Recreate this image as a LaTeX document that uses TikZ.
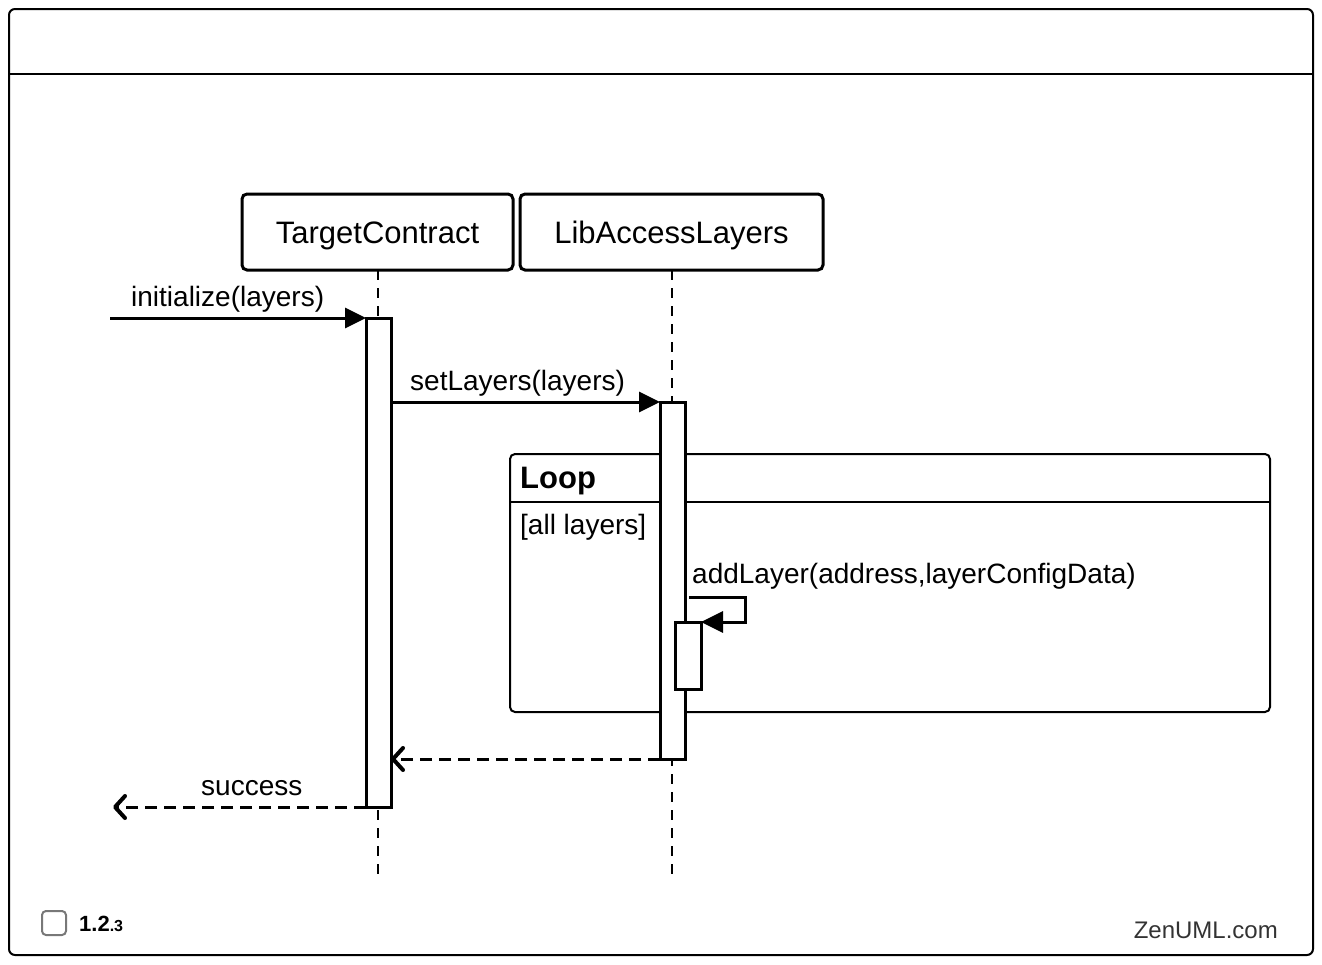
\documentclass[tikz,border=0pt]{standalone}
\usepackage{fontspec}
\setmainfont{Liberation Sans}
\usetikzlibrary{arrows.meta}
\definecolor{footgray}{RGB}{51,51,51}
\definecolor{boxgray}{RGB}{120,120,120}
\begin{document}
\begin{tikzpicture}[x=1pt,y=-1pt,
  part/.style={draw, line width=3pt, rounded corners=5pt, minimum height=76pt, inner sep=0pt, outer sep=0pt, text height=22pt, text depth=0pt, font=\fontsize{31}{37}\selectfont},
  act/.style={draw, fill=white, line width=3pt, inner sep=0pt, outer sep=0pt},
  life/.style={line width=1.5pt, dash pattern=on 10pt off 8pt},
  msg/.style={line width=3pt, -{Triangle[length=21pt,width=20pt]}},
  ret/.style={line width=3pt, dash pattern=on 12pt off 7pt, -{Straight Barb[length=10pt,width=22pt,line width=4pt,round]}},
  lbl/.style={font=\fontsize{28}{34}\selectfont, inner sep=0pt, anchor=base west},
]
\useasboundingbox (0,0) rectangle (1322,964);
% outer frame
\node[draw, line width=2pt, rounded corners=6pt, minimum width=1304pt, minimum height=946pt, inner sep=0pt, outer sep=0pt] (frame) at (661,482) {};
\draw[line width=2pt] (frame.west |- 0,74) -- (frame.east |- 0,74);
% participants
\node[part, minimum width=271pt] (tc) at (377.5,232) {TargetContract};
\node[part, minimum width=303pt] (lal) at (671.5,232) {LibAccessLayers};
% lifelines
\coordinate (tcend) at (378,880);
\coordinate (lalend) at (672,880);
\draw[life] (tc.south -| tcend) -- (tcend);
\draw[life] (lal.south -| lalend) -- (lalend);
% loop fragment
\node[draw, line width=2pt, rounded corners=5pt, minimum width=760pt, minimum height=258pt, inner sep=0pt, outer sep=0pt] (loop) at (890,583) {};
\draw[line width=2pt] (loop.west |- 0,502) -- (loop.east |- 0,502);
\node[font=\bfseries\fontsize{31}{37}\selectfont, inner sep=0pt, anchor=base west] (looplbl) at (520,488) {Loop};
\node[lbl] (cond) at (520,534) {[all layers]};
% activations
\node[act, minimum width=25pt, minimum height=489pt] (a1) at (378.5,562.5) {};
\node[act, minimum width=25pt, minimum height=357pt] (a2) at (672.5,580.5) {};
\node[act, minimum width=26pt, minimum height=67pt] (a3) at (688,655.5) {};
% messages
\coordinate (init) at (110,318);
\draw[msg] (init) -- (a1.north west);
\node[lbl] (l1) at (131,306) {initialize(layers)};
\draw[msg] (a1.east |- a2.north) -- (a2.north west);
\node[lbl] (l2) at (410,390) {setLayers(layers)};
\coordinate (selfstart) at (689,597);
\draw[line width=3pt, -{Triangle[length=22pt,width=21pt]}] (selfstart) -- ++(56,0) |- (a3.north east);
\node[lbl] (l3) at (692,583) {addLayer(address,layerConfigData)};
\draw[ret] (a2.south west) -- (a1.east |- a2.south);
\coordinate (succ) at (113,807);
\draw[ret] (a1.south west) -- (succ);
\node[lbl] (l4) at (201,795) {success};
% footer
\node[draw=boxgray, line width=2pt, rounded corners=4pt, minimum width=24pt, minimum height=24pt, inner sep=0pt] (chk) at (54,923) {};
\node[inner sep=0pt, anchor=base west, font=\bfseries] (ver) at (79,931) {\fontsize{22}{26}\selectfont 1.2\fontsize{16}{19}\selectfont .3};
\node[inner sep=0pt, anchor=base east, text=footgray, font=\fontsize{24}{29}\selectfont] (zen) at (1278,938) {ZenUML.com};
\end{tikzpicture}
\end{document}
